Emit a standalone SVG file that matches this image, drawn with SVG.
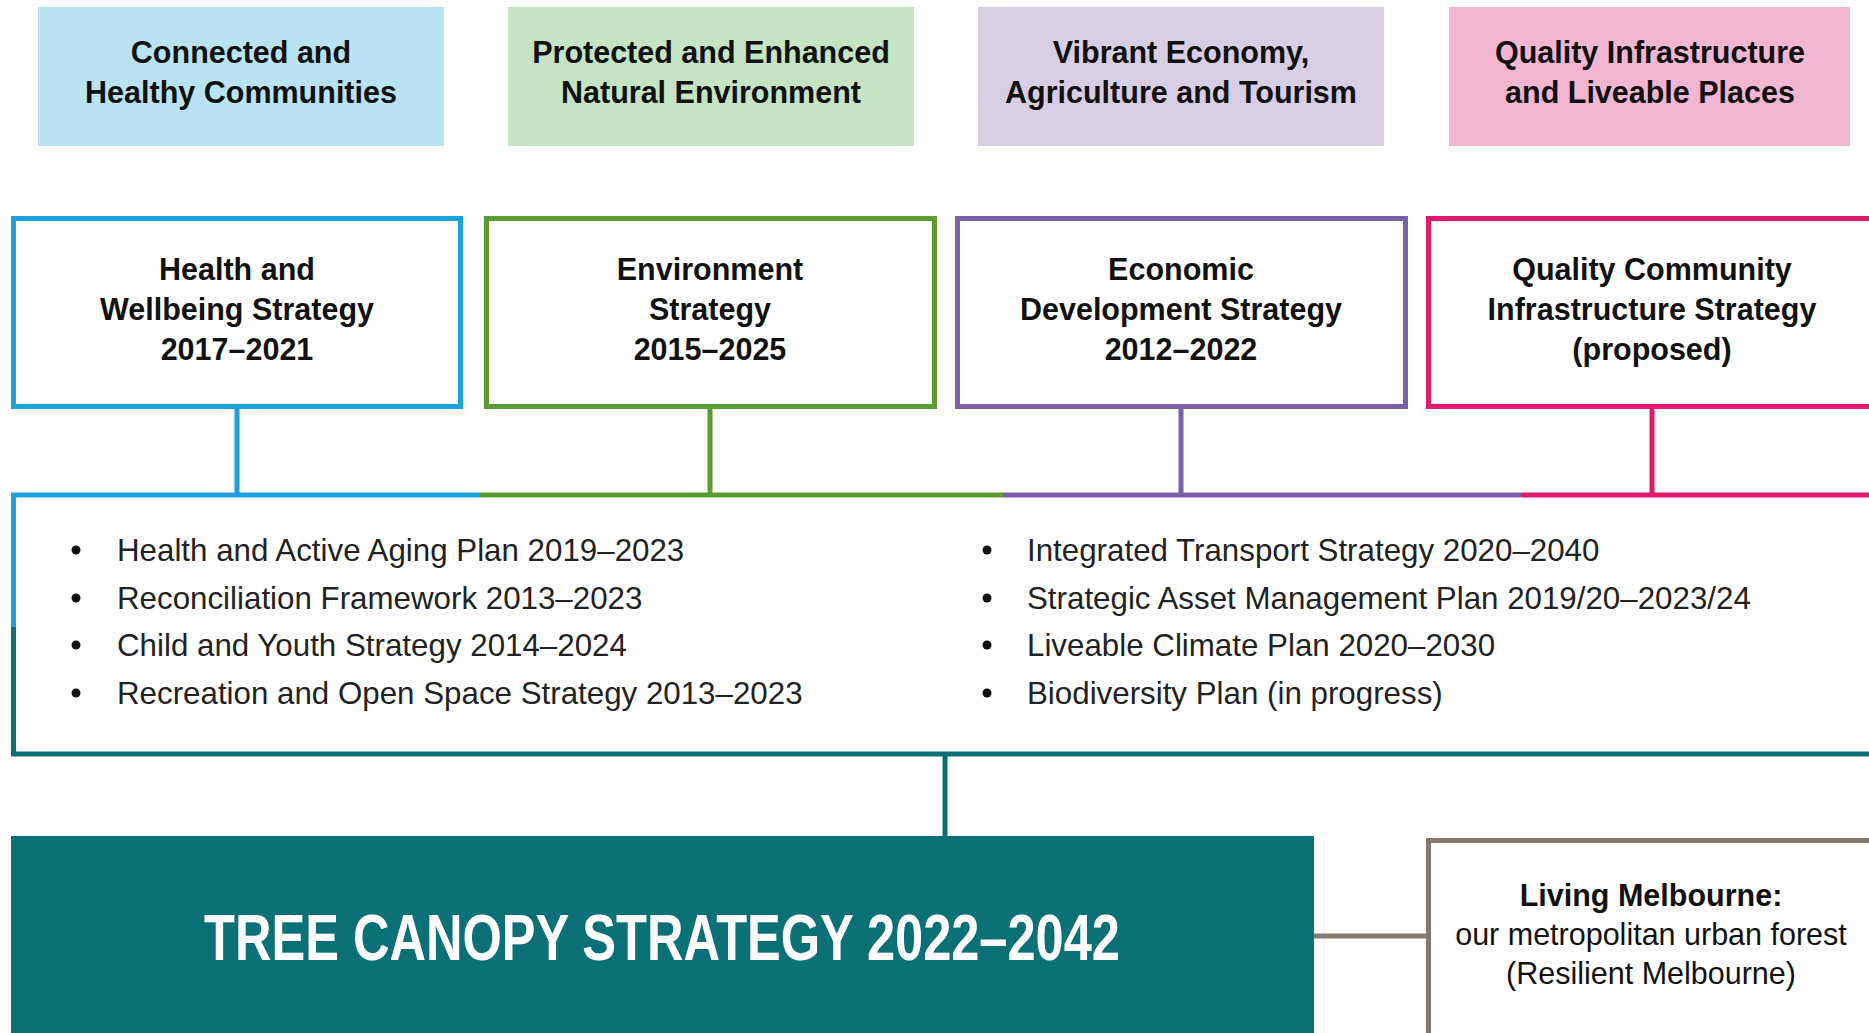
<svg xmlns="http://www.w3.org/2000/svg" width="1869" height="1033" viewBox="0 0 1869 1033">
<style>
.hdr{font-family:"Liberation Sans",Arial,sans-serif;font-weight:bold;font-size:30.5px;fill:#111;text-anchor:middle}
.item{font-family:"Liberation Sans",Arial,sans-serif;font-size:31.3px;fill:#222}
.box{fill:#fff;stroke-width:5}
.ln{fill:none;stroke-width:5}
.bul{fill:#111}
.liv{font-family:"Liberation Sans",Arial,sans-serif;font-size:30.5px;fill:#111;text-anchor:middle}
</style>
<rect width="1869" height="1033" fill="#fff"/>

<g id="theme-connected">
<rect x="38" y="7" width="406" height="139" fill="#b9e2f2"/>
<text class="hdr" x="241" y="63">Connected and</text>
<text class="hdr" x="241" y="103">Healthy Communities</text>
</g>
<g id="theme-protected">
<rect x="508" y="7" width="406" height="139" fill="#c5e4c4"/>
<text class="hdr" x="711" y="63">Protected and Enhanced</text>
<text class="hdr" x="711" y="103">Natural Environment</text>
</g>
<g id="theme-vibrant">
<rect x="978" y="7" width="406" height="139" fill="#d8cee4"/>
<text class="hdr" x="1181" y="63">Vibrant Economy,</text>
<text class="hdr" x="1181" y="103">Agriculture and Tourism</text>
</g>
<g id="theme-quality">
<rect x="1449" y="7" width="401" height="139" fill="#f3b6d0"/>
<text class="hdr" x="1650" y="63">Quality Infrastructure</text>
<text class="hdr" x="1650" y="103">and Liveable Places</text>
</g>

<g id="connectors">
<line class="ln" x1="237" y1="409" x2="237" y2="495" stroke="#1da1db"/>
<line class="ln" x1="710" y1="409" x2="710" y2="495" stroke="#5c9d32"/>
<line class="ln" x1="1181" y1="409" x2="1181" y2="495" stroke="#7a5fa8"/>
<line class="ln" x1="1652" y1="409" x2="1652" y2="495" stroke="#e01a6c"/>
<line class="ln" x1="945" y1="754" x2="945" y2="838" stroke="#0b6f73"/>
<line class="ln" x1="1314" y1="936" x2="1428" y2="936" stroke="#857870"/>
</g>

<g id="strategy-health">
<rect class="box" x="13.5" y="218.5" width="447" height="188" stroke="#1da1db"/>
<text class="hdr" x="237" y="280">Health and</text>
<text class="hdr" x="237" y="320">Wellbeing Strategy</text>
<text class="hdr" x="237" y="360">2017–2021</text>
</g>
<g id="strategy-environment">
<rect class="box" x="486.5" y="218.5" width="448" height="188" stroke="#5c9d32"/>
<text class="hdr" x="710" y="280">Environment</text>
<text class="hdr" x="710" y="320">Strategy</text>
<text class="hdr" x="710" y="360">2015–2025</text>
</g>
<g id="strategy-economic">
<rect class="box" x="957.5" y="218.5" width="448" height="188" stroke="#7a5fa8"/>
<text class="hdr" x="1181" y="280">Economic</text>
<text class="hdr" x="1181" y="320">Development Strategy</text>
<text class="hdr" x="1181" y="360">2012–2022</text>
</g>
<g id="strategy-infrastructure">
<rect class="box" x="1428.5" y="218.5" width="460" height="188" stroke="#e01a6c"/>
<text class="hdr" x="1652" y="280">Quality Community</text>
<text class="hdr" x="1652" y="320">Infrastructure Strategy</text>
<text class="hdr" x="1652" y="360">(proposed)</text>
</g>

<g id="plans-list">
<line class="ln" x1="11" y1="495" x2="479" y2="495" stroke="#1da1db"/>
<line class="ln" x1="479" y1="495" x2="1003" y2="495" stroke="#5c9d32"/>
<line class="ln" x1="1003" y1="495" x2="1522" y2="495" stroke="#7a5fa8"/>
<line class="ln" x1="1522" y1="495" x2="1869" y2="495" stroke="#e01a6c"/>
<line class="ln" x1="13.5" y1="493" x2="13.5" y2="627" stroke="#1da1db"/>
<line class="ln" x1="13.5" y1="627" x2="13.5" y2="756" stroke="#0b6f73"/>
<line class="ln" x1="11" y1="754" x2="1869" y2="754" stroke="#0b6f73"/>
<circle class="bul" cx="76" cy="550" r="4.5"/>
<circle class="bul" cx="76" cy="598" r="4.5"/>
<circle class="bul" cx="76" cy="645" r="4.5"/>
<circle class="bul" cx="76" cy="693" r="4.5"/>
<text class="item" x="117" y="561">Health and Active Aging Plan 2019–2023</text>
<text class="item" x="117" y="609">Reconciliation Framework 2013–2023</text>
<text class="item" x="117" y="656">Child and Youth Strategy 2014–2024</text>
<text class="item" x="117" y="704">Recreation and Open Space Strategy 2013–2023</text>
<circle class="bul" cx="987" cy="550" r="4.5"/>
<circle class="bul" cx="987" cy="598" r="4.5"/>
<circle class="bul" cx="987" cy="645" r="4.5"/>
<circle class="bul" cx="987" cy="693" r="4.5"/>
<text class="item" x="1027" y="561">Integrated Transport Strategy 2020–2040</text>
<text class="item" x="1027" y="609">Strategic Asset Management Plan 2019/20–2023/24</text>
<text class="item" x="1027" y="656">Liveable Climate Plan 2020–2030</text>
<text class="item" x="1027" y="704">Biodiversity Plan (in progress)</text>
</g>

<g id="tree-canopy-strategy">
<rect x="11" y="836" width="1303" height="200" fill="#0c7176"/>
<text transform="translate(662 960) scale(0.79 1)" x="0" y="0" font-family="'Liberation Sans',Arial,sans-serif" font-weight="bold" font-size="64" fill="#fff" text-anchor="middle">TREE CANOPY STRATEGY 2022–2042</text>
</g>

<g id="living-melbourne">
<rect class="box" x="1428.5" y="840.5" width="470" height="220" stroke="#857870"/>
<text class="liv" x="1651" y="906" font-weight="bold">Living Melbourne:</text>
<text class="liv" x="1651" y="945">our metropolitan urban forest</text>
<text class="liv" x="1651" y="984">(Resilient Melbourne)</text>
</g>
</svg>
